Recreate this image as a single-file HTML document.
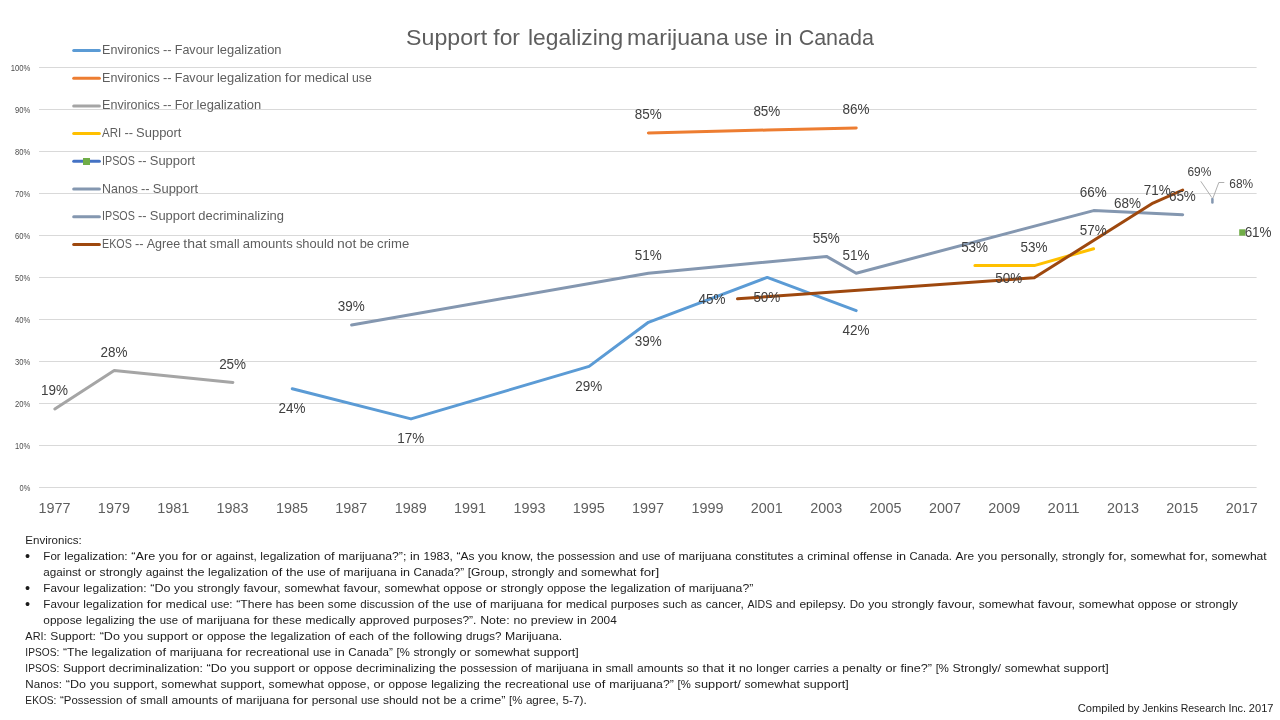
<!DOCTYPE html>
<html lang="en"><head><meta charset="utf-8"><title>Support for legalizing marijuana use in Canada</title>
<style>html,body{margin:0;padding:0;background:#fff;}body{width:1280px;height:720px;overflow:hidden;}svg{display:block;font-family:"Liberation Sans", sans-serif;}.ax{fill:#5e5e5e;}.ya{fill:#4d4d4d;}.dl{fill:#404040;}.nt{fill:#1c1c1c;}</style></head><body>
<svg width="1280" height="720" viewBox="0 0 1280 720">
<rect width="1280" height="720" fill="#fff"/>
<line x1="39.0" y1="67.5" x2="1256.6" y2="67.5" stroke="#d9d9d9" stroke-width="1"/>
<line x1="39.0" y1="109.5" x2="1256.6" y2="109.5" stroke="#d9d9d9" stroke-width="1"/>
<line x1="39.0" y1="151.5" x2="1256.6" y2="151.5" stroke="#d9d9d9" stroke-width="1"/>
<line x1="39.0" y1="193.5" x2="1256.6" y2="193.5" stroke="#d9d9d9" stroke-width="1"/>
<line x1="39.0" y1="235.5" x2="1256.6" y2="235.5" stroke="#d9d9d9" stroke-width="1"/>
<line x1="39.0" y1="277.5" x2="1256.6" y2="277.5" stroke="#d9d9d9" stroke-width="1"/>
<line x1="39.0" y1="319.5" x2="1256.6" y2="319.5" stroke="#d9d9d9" stroke-width="1"/>
<line x1="39.0" y1="361.5" x2="1256.6" y2="361.5" stroke="#d9d9d9" stroke-width="1"/>
<line x1="39.0" y1="403.5" x2="1256.6" y2="403.5" stroke="#d9d9d9" stroke-width="1"/>
<line x1="39.0" y1="445.5" x2="1256.6" y2="445.5" stroke="#d9d9d9" stroke-width="1"/>
<line x1="39.0" y1="487.5" x2="1256.6" y2="487.5" stroke="#d9d9d9" stroke-width="1"/>
<text x="10.63" y="70.70" font-size="8.30" textLength="19.67" lengthAdjust="spacingAndGlyphs" class="ya">100%</text>
<text x="15.09" y="112.70" font-size="8.30" textLength="15.21" lengthAdjust="spacingAndGlyphs" class="ya">90%</text>
<text x="15.09" y="154.70" font-size="8.30" textLength="15.21" lengthAdjust="spacingAndGlyphs" class="ya">80%</text>
<text x="15.09" y="196.70" font-size="8.30" textLength="15.21" lengthAdjust="spacingAndGlyphs" class="ya">70%</text>
<text x="15.09" y="238.70" font-size="8.30" textLength="15.21" lengthAdjust="spacingAndGlyphs" class="ya">60%</text>
<text x="15.09" y="280.70" font-size="8.30" textLength="15.21" lengthAdjust="spacingAndGlyphs" class="ya">50%</text>
<text x="15.09" y="322.70" font-size="8.30" textLength="15.21" lengthAdjust="spacingAndGlyphs" class="ya">40%</text>
<text x="15.09" y="364.70" font-size="8.30" textLength="15.21" lengthAdjust="spacingAndGlyphs" class="ya">30%</text>
<text x="15.09" y="406.70" font-size="8.30" textLength="15.21" lengthAdjust="spacingAndGlyphs" class="ya">20%</text>
<text x="15.09" y="448.70" font-size="8.30" textLength="15.21" lengthAdjust="spacingAndGlyphs" class="ya">10%</text>
<text x="19.55" y="490.70" font-size="8.30" textLength="10.75" lengthAdjust="spacingAndGlyphs" class="ya">0%</text>
<text x="38.52" y="512.80" font-size="14.00" textLength="32.03" lengthAdjust="spacingAndGlyphs" class="ax">1977</text>
<text x="97.88" y="512.80" font-size="14.00" textLength="32.03" lengthAdjust="spacingAndGlyphs" class="ax">1979</text>
<text x="157.24" y="512.80" font-size="14.00" textLength="32.03" lengthAdjust="spacingAndGlyphs" class="ax">1981</text>
<text x="216.60" y="512.80" font-size="14.00" textLength="32.03" lengthAdjust="spacingAndGlyphs" class="ax">1983</text>
<text x="275.96" y="512.80" font-size="14.00" textLength="32.03" lengthAdjust="spacingAndGlyphs" class="ax">1985</text>
<text x="335.32" y="512.80" font-size="14.00" textLength="32.03" lengthAdjust="spacingAndGlyphs" class="ax">1987</text>
<text x="394.68" y="512.80" font-size="14.00" textLength="32.03" lengthAdjust="spacingAndGlyphs" class="ax">1989</text>
<text x="454.04" y="512.80" font-size="14.00" textLength="32.03" lengthAdjust="spacingAndGlyphs" class="ax">1991</text>
<text x="513.40" y="512.80" font-size="14.00" textLength="32.03" lengthAdjust="spacingAndGlyphs" class="ax">1993</text>
<text x="572.76" y="512.80" font-size="14.00" textLength="32.03" lengthAdjust="spacingAndGlyphs" class="ax">1995</text>
<text x="632.12" y="512.80" font-size="14.00" textLength="32.03" lengthAdjust="spacingAndGlyphs" class="ax">1997</text>
<text x="691.48" y="512.80" font-size="14.00" textLength="32.03" lengthAdjust="spacingAndGlyphs" class="ax">1999</text>
<text x="750.84" y="512.80" font-size="14.00" textLength="32.03" lengthAdjust="spacingAndGlyphs" class="ax">2001</text>
<text x="810.20" y="512.80" font-size="14.00" textLength="32.03" lengthAdjust="spacingAndGlyphs" class="ax">2003</text>
<text x="869.56" y="512.80" font-size="14.00" textLength="32.03" lengthAdjust="spacingAndGlyphs" class="ax">2005</text>
<text x="928.92" y="512.80" font-size="14.00" textLength="32.03" lengthAdjust="spacingAndGlyphs" class="ax">2007</text>
<text x="988.28" y="512.80" font-size="14.00" textLength="32.03" lengthAdjust="spacingAndGlyphs" class="ax">2009</text>
<text x="1047.64" y="512.80" font-size="14.00" textLength="32.03" lengthAdjust="spacingAndGlyphs" class="ax">2011</text>
<text x="1107.00" y="512.80" font-size="14.00" textLength="32.03" lengthAdjust="spacingAndGlyphs" class="ax">2013</text>
<text x="1166.36" y="512.80" font-size="14.00" textLength="32.03" lengthAdjust="spacingAndGlyphs" class="ax">2015</text>
<text x="1225.72" y="512.80" font-size="14.00" textLength="32.03" lengthAdjust="spacingAndGlyphs" class="ax">2017</text>
<text y="45.00" font-size="22.60" class="ax"><tspan x="406.14" textLength="81.06" lengthAdjust="spacingAndGlyphs">Support</tspan> <tspan x="493.34" textLength="26.66" lengthAdjust="spacingAndGlyphs">for</tspan> <tspan x="528.04" textLength="95.06" lengthAdjust="spacingAndGlyphs">legalizing</tspan> <tspan x="626.94" textLength="101.86" lengthAdjust="spacingAndGlyphs">marijuana</tspan> <tspan x="733.94" textLength="33.96" lengthAdjust="spacingAndGlyphs">use</tspan> <tspan x="774.44" textLength="18.16" lengthAdjust="spacingAndGlyphs">in</tspan> <tspan x="798.64" textLength="75.36" lengthAdjust="spacingAndGlyphs">Canada</tspan></text>
<line x1="73.7" y1="50.50" x2="99.4" y2="50.50" stroke="#5B9BD5" stroke-width="3.0" stroke-linecap="round"/>
<text y="54.00" font-size="12.60" class="ax"><tspan x="102.06" textLength="57.83" lengthAdjust="spacingAndGlyphs">Environics</tspan> <tspan x="163.05" textLength="8.55" lengthAdjust="spacingAndGlyphs">--</tspan> <tspan x="174.76" textLength="39.00" lengthAdjust="spacingAndGlyphs">Favour</tspan> <tspan x="216.92" textLength="64.64" lengthAdjust="spacingAndGlyphs">legalization</tspan></text>
<line x1="73.7" y1="78.20" x2="99.4" y2="78.20" stroke="#ED7D31" stroke-width="3.0" stroke-linecap="round"/>
<text y="81.70" font-size="12.60" class="ax"><tspan x="102.06" textLength="57.83" lengthAdjust="spacingAndGlyphs">Environics</tspan> <tspan x="163.05" textLength="8.55" lengthAdjust="spacingAndGlyphs">--</tspan> <tspan x="174.76" textLength="39.00" lengthAdjust="spacingAndGlyphs">Favour</tspan> <tspan x="216.92" textLength="64.64" lengthAdjust="spacingAndGlyphs">legalization</tspan> <tspan x="284.72" textLength="16.50" lengthAdjust="spacingAndGlyphs">for</tspan> <tspan x="304.37" textLength="44.46" lengthAdjust="spacingAndGlyphs">medical</tspan> <tspan x="351.99" textLength="19.75" lengthAdjust="spacingAndGlyphs">use</tspan></text>
<line x1="73.7" y1="105.90" x2="99.4" y2="105.90" stroke="#A5A5A5" stroke-width="3.0" stroke-linecap="round"/>
<text y="109.40" font-size="12.60" class="ax"><tspan x="102.06" textLength="57.83" lengthAdjust="spacingAndGlyphs">Environics</tspan> <tspan x="163.05" textLength="8.55" lengthAdjust="spacingAndGlyphs">--</tspan> <tspan x="174.76" textLength="18.66" lengthAdjust="spacingAndGlyphs">For</tspan> <tspan x="196.58" textLength="64.64" lengthAdjust="spacingAndGlyphs">legalization</tspan></text>
<line x1="73.7" y1="133.60" x2="99.4" y2="133.60" stroke="#FFC000" stroke-width="3.0" stroke-linecap="round"/>
<text y="137.10" font-size="12.60" class="ax"><tspan x="102.06" textLength="19.19" lengthAdjust="spacingAndGlyphs">ARI</tspan> <tspan x="124.41" textLength="8.55" lengthAdjust="spacingAndGlyphs">--</tspan> <tspan x="136.12" textLength="45.35" lengthAdjust="spacingAndGlyphs">Support</tspan></text>
<line x1="73.7" y1="161.30" x2="99.4" y2="161.30" stroke="#4472C4" stroke-width="3.0" stroke-linecap="round"/>
<rect x="83" y="158" width="7" height="7" fill="#70AD47"/>
<text y="164.80" font-size="12.60" class="ax"><tspan x="102.06" textLength="32.82" lengthAdjust="spacingAndGlyphs">IPSOS</tspan> <tspan x="138.04" textLength="8.55" lengthAdjust="spacingAndGlyphs">--</tspan> <tspan x="149.76" textLength="45.35" lengthAdjust="spacingAndGlyphs">Support</tspan></text>
<line x1="73.7" y1="189.00" x2="99.4" y2="189.00" stroke="#8497B0" stroke-width="3.0" stroke-linecap="round"/>
<text y="192.50" font-size="12.60" class="ax"><tspan x="102.06" textLength="35.88" lengthAdjust="spacingAndGlyphs">Nanos</tspan> <tspan x="141.10" textLength="8.55" lengthAdjust="spacingAndGlyphs">--</tspan> <tspan x="152.81" textLength="45.35" lengthAdjust="spacingAndGlyphs">Support</tspan></text>
<line x1="73.7" y1="216.70" x2="99.4" y2="216.70" stroke="#8497B0" stroke-width="3.0" stroke-linecap="round"/>
<text y="220.20" font-size="12.60" class="ax"><tspan x="102.06" textLength="32.82" lengthAdjust="spacingAndGlyphs">IPSOS</tspan> <tspan x="138.04" textLength="8.55" lengthAdjust="spacingAndGlyphs">--</tspan> <tspan x="149.76" textLength="45.35" lengthAdjust="spacingAndGlyphs">Support</tspan> <tspan x="198.27" textLength="85.72" lengthAdjust="spacingAndGlyphs">decriminalizing</tspan></text>
<line x1="73.7" y1="244.40" x2="99.4" y2="244.40" stroke="#9E480E" stroke-width="3.0" stroke-linecap="round"/>
<text y="247.90" font-size="12.60" class="ax"><tspan x="102.06" textLength="29.75" lengthAdjust="spacingAndGlyphs">EKOS</tspan> <tspan x="134.97" textLength="8.55" lengthAdjust="spacingAndGlyphs">--</tspan> <tspan x="146.68" textLength="33.43" lengthAdjust="spacingAndGlyphs">Agree</tspan> <tspan x="183.27" textLength="23.39" lengthAdjust="spacingAndGlyphs">that</tspan> <tspan x="209.82" textLength="29.73" lengthAdjust="spacingAndGlyphs">small</tspan> <tspan x="242.70" textLength="50.04" lengthAdjust="spacingAndGlyphs">amounts</tspan> <tspan x="295.90" textLength="38.06" lengthAdjust="spacingAndGlyphs">should</tspan> <tspan x="337.12" textLength="19.39" lengthAdjust="spacingAndGlyphs">not</tspan> <tspan x="359.66" textLength="14.29" lengthAdjust="spacingAndGlyphs">be</tspan> <tspan x="377.11" textLength="32.09" lengthAdjust="spacingAndGlyphs">crime</tspan></text>
<polyline fill="none" stroke="#5B9BD5" stroke-width="3.00" stroke-linecap="round" stroke-linejoin="round" points="292.3,388.7 411.0,418.9 589.1,366.4 648.4,322.3 767.2,277.4 856.2,310.6"/>
<polyline fill="none" stroke="#ED7D31" stroke-width="3.00" stroke-linecap="round" stroke-linejoin="round" points="648.4,132.9 767.2,130.0 856.2,127.9"/>
<polyline fill="none" stroke="#A5A5A5" stroke-width="3.00" stroke-linecap="round" stroke-linejoin="round" points="54.8,408.9 114.2,370.6 232.9,382.4"/>
<polyline fill="none" stroke="#FFC000" stroke-width="3.00" stroke-linecap="round" stroke-linejoin="round" points="974.9,265.6 1034.3,265.6 1093.6,248.8"/>
<polyline fill="none" stroke="#8497B0" stroke-width="2.50" stroke-linecap="round" stroke-linejoin="round" points="1212.4,198.9 1212.4,202.6"/>
<polyline fill="none" stroke="#8497B0" stroke-width="3.00" stroke-linecap="round" stroke-linejoin="round" points="351.6,324.9 648.4,273.2 826.5,256.4 856.2,273.2 1093.6,210.6 1182.7,214.8"/>
<polyline fill="none" stroke="#9E480E" stroke-width="3.00" stroke-linecap="round" stroke-linejoin="round" points="737.5,298.8 1034.3,277.8 1153.0,203.1 1182.7,190.0"/>
<rect x="1239.2" y="229.3" width="6.2" height="6.4" fill="#70AD47"/>
<polyline fill="none" stroke="#a6a6a6" stroke-width="0.9" points="1200.8,181.3 1211.8,197.5"/>
<polyline fill="none" stroke="#a6a6a6" stroke-width="0.9" points="1224.3,182.5 1218.8,182.5 1213,198"/>
<text x="41.06" y="395.26" font-size="14.20" textLength="26.96" lengthAdjust="spacingAndGlyphs" class="dl">19%</text>
<text x="100.42" y="357.04" font-size="14.20" textLength="26.96" lengthAdjust="spacingAndGlyphs" class="dl">28%</text>
<text x="219.14" y="368.80" font-size="14.20" textLength="26.96" lengthAdjust="spacingAndGlyphs" class="dl">25%</text>
<text x="278.50" y="412.80" font-size="14.20" textLength="26.96" lengthAdjust="spacingAndGlyphs" class="dl">24%</text>
<text x="397.22" y="443.04" font-size="14.20" textLength="26.96" lengthAdjust="spacingAndGlyphs" class="dl">17%</text>
<text x="575.30" y="390.54" font-size="14.20" textLength="26.96" lengthAdjust="spacingAndGlyphs" class="dl">29%</text>
<text x="634.66" y="346.44" font-size="14.20" textLength="26.96" lengthAdjust="spacingAndGlyphs" class="dl">39%</text>
<text x="753.38" y="301.50" font-size="14.20" textLength="26.96" lengthAdjust="spacingAndGlyphs" class="dl">50%</text>
<text x="842.42" y="334.68" font-size="14.20" textLength="26.96" lengthAdjust="spacingAndGlyphs" class="dl">42%</text>
<text x="634.66" y="119.32" font-size="14.20" textLength="26.96" lengthAdjust="spacingAndGlyphs" class="dl">85%</text>
<text x="753.38" y="116.38" font-size="14.20" textLength="26.96" lengthAdjust="spacingAndGlyphs" class="dl">85%</text>
<text x="842.42" y="114.28" font-size="14.20" textLength="26.96" lengthAdjust="spacingAndGlyphs" class="dl">86%</text>
<text x="961.14" y="252.04" font-size="14.20" textLength="26.96" lengthAdjust="spacingAndGlyphs" class="dl">53%</text>
<text x="1020.50" y="252.04" font-size="14.20" textLength="26.96" lengthAdjust="spacingAndGlyphs" class="dl">53%</text>
<text x="1079.86" y="235.24" font-size="14.20" textLength="26.96" lengthAdjust="spacingAndGlyphs" class="dl">57%</text>
<text x="337.86" y="311.26" font-size="14.20" textLength="26.96" lengthAdjust="spacingAndGlyphs" class="dl">39%</text>
<text x="634.66" y="259.60" font-size="14.20" textLength="26.96" lengthAdjust="spacingAndGlyphs" class="dl">51%</text>
<text x="812.74" y="242.80" font-size="14.20" textLength="26.96" lengthAdjust="spacingAndGlyphs" class="dl">55%</text>
<text x="842.42" y="259.60" font-size="14.20" textLength="26.96" lengthAdjust="spacingAndGlyphs" class="dl">51%</text>
<text x="1079.86" y="197.02" font-size="14.20" textLength="26.96" lengthAdjust="spacingAndGlyphs" class="dl">66%</text>
<text x="1168.90" y="201.22" font-size="14.20" textLength="26.96" lengthAdjust="spacingAndGlyphs" class="dl">65%</text>
<text x="698.52" y="303.92" font-size="14.20" textLength="26.96" lengthAdjust="spacingAndGlyphs" class="dl">45%</text>
<text x="995.32" y="282.92" font-size="14.20" textLength="26.96" lengthAdjust="spacingAndGlyphs" class="dl">50%</text>
<text x="1114.04" y="208.16" font-size="14.20" textLength="26.96" lengthAdjust="spacingAndGlyphs" class="dl">68%</text>
<text x="1143.72" y="195.14" font-size="14.20" textLength="26.96" lengthAdjust="spacingAndGlyphs" class="dl">71%</text>
<text x="1244.64" y="236.96" font-size="14.20" textLength="26.96" lengthAdjust="spacingAndGlyphs" class="dl">61%</text>
<text x="1187.47" y="176.00" font-size="12.60" textLength="23.85" lengthAdjust="spacingAndGlyphs" class="dl">69%</text>
<text x="1229.27" y="188.00" font-size="12.60" textLength="23.85" lengthAdjust="spacingAndGlyphs" class="dl">68%</text>
<text y="544.00" font-size="11.80" class="nt"><tspan x="25.37" textLength="56.38" lengthAdjust="spacingAndGlyphs">Environics:</tspan></text>
<text y="560.00" font-size="11.80" class="nt"><tspan x="43.37" textLength="17.29" lengthAdjust="spacingAndGlyphs">For</tspan> <tspan x="64.29" textLength="63.38" lengthAdjust="spacingAndGlyphs">legalization:</tspan> <tspan x="131.31" textLength="23.87" lengthAdjust="spacingAndGlyphs">“Are</tspan> <tspan x="158.81" textLength="19.49" lengthAdjust="spacingAndGlyphs">you</tspan> <tspan x="181.93" textLength="15.30" lengthAdjust="spacingAndGlyphs">for</tspan> <tspan x="200.86" textLength="11.34" lengthAdjust="spacingAndGlyphs">or</tspan> <tspan x="215.83" textLength="40.91" lengthAdjust="spacingAndGlyphs">against,</tspan> <tspan x="260.37" textLength="59.92" lengthAdjust="spacingAndGlyphs">legalization</tspan> <tspan x="323.92" textLength="10.78" lengthAdjust="spacingAndGlyphs">of</tspan> <tspan x="338.33" textLength="68.03" lengthAdjust="spacingAndGlyphs">marijuana?”;</tspan> <tspan x="409.99" textLength="9.78" lengthAdjust="spacingAndGlyphs">in</tspan> <tspan x="423.40" textLength="29.49" lengthAdjust="spacingAndGlyphs">1983,</tspan> <tspan x="456.51" textLength="17.98" lengthAdjust="spacingAndGlyphs">“As</tspan> <tspan x="478.12" textLength="19.49" lengthAdjust="spacingAndGlyphs">you</tspan> <tspan x="501.25" textLength="32.01" lengthAdjust="spacingAndGlyphs">know,</tspan> <tspan x="536.88" textLength="17.58" lengthAdjust="spacingAndGlyphs">the</tspan> <tspan x="558.10" textLength="56.94" lengthAdjust="spacingAndGlyphs">possession</tspan> <tspan x="618.67" textLength="19.81" lengthAdjust="spacingAndGlyphs">and</tspan> <tspan x="642.11" textLength="18.31" lengthAdjust="spacingAndGlyphs">use</tspan> <tspan x="664.05" textLength="10.78" lengthAdjust="spacingAndGlyphs">of</tspan> <tspan x="678.46" textLength="53.15" lengthAdjust="spacingAndGlyphs">marijuana</tspan> <tspan x="735.24" textLength="58.47" lengthAdjust="spacingAndGlyphs">constitutes</tspan> <tspan x="797.34" textLength="6.20" lengthAdjust="spacingAndGlyphs">a</tspan> <tspan x="807.17" textLength="42.26" lengthAdjust="spacingAndGlyphs">criminal</tspan> <tspan x="853.06" textLength="39.49" lengthAdjust="spacingAndGlyphs">offense</tspan> <tspan x="896.18" textLength="9.78" lengthAdjust="spacingAndGlyphs">in</tspan> <tspan x="909.58" textLength="42.39" lengthAdjust="spacingAndGlyphs">Canada.</tspan> <tspan x="955.60" textLength="18.45" lengthAdjust="spacingAndGlyphs">Are</tspan> <tspan x="977.68" textLength="19.49" lengthAdjust="spacingAndGlyphs">you</tspan> <tspan x="1000.81" textLength="57.70" lengthAdjust="spacingAndGlyphs">personally,</tspan> <tspan x="1062.14" textLength="42.48" lengthAdjust="spacingAndGlyphs">strongly</tspan> <tspan x="1108.25" textLength="18.53" lengthAdjust="spacingAndGlyphs">for,</tspan> <tspan x="1130.40" textLength="55.28" lengthAdjust="spacingAndGlyphs">somewhat</tspan> <tspan x="1189.32" textLength="18.53" lengthAdjust="spacingAndGlyphs">for,</tspan> <tspan x="1211.47" textLength="55.28" lengthAdjust="spacingAndGlyphs">somewhat</tspan></text>
<text x="25.05" y="560.60" font-size="14.5" class="nt">•</text>
<text y="576.00" font-size="11.80" class="nt"><tspan x="43.37" textLength="37.68" lengthAdjust="spacingAndGlyphs">against</tspan> <tspan x="84.65" textLength="11.34" lengthAdjust="spacingAndGlyphs">or</tspan> <tspan x="99.58" textLength="42.48" lengthAdjust="spacingAndGlyphs">strongly</tspan> <tspan x="145.66" textLength="37.68" lengthAdjust="spacingAndGlyphs">against</tspan> <tspan x="186.93" textLength="17.58" lengthAdjust="spacingAndGlyphs">the</tspan> <tspan x="208.11" textLength="59.92" lengthAdjust="spacingAndGlyphs">legalization</tspan> <tspan x="271.63" textLength="10.78" lengthAdjust="spacingAndGlyphs">of</tspan> <tspan x="286.00" textLength="17.58" lengthAdjust="spacingAndGlyphs">the</tspan> <tspan x="307.18" textLength="18.31" lengthAdjust="spacingAndGlyphs">use</tspan> <tspan x="329.09" textLength="10.78" lengthAdjust="spacingAndGlyphs">of</tspan> <tspan x="343.47" textLength="53.15" lengthAdjust="spacingAndGlyphs">marijuana</tspan> <tspan x="400.21" textLength="9.78" lengthAdjust="spacingAndGlyphs">in</tspan> <tspan x="413.58" textLength="50.54" lengthAdjust="spacingAndGlyphs">Canada?”</tspan> <tspan x="467.71" textLength="40.32" lengthAdjust="spacingAndGlyphs">[Group,</tspan> <tspan x="511.63" textLength="42.48" lengthAdjust="spacingAndGlyphs">strongly</tspan> <tspan x="557.71" textLength="19.81" lengthAdjust="spacingAndGlyphs">and</tspan> <tspan x="581.11" textLength="55.28" lengthAdjust="spacingAndGlyphs">somewhat</tspan> <tspan x="639.99" textLength="19.27" lengthAdjust="spacingAndGlyphs">for]</tspan></text>
<text y="592.00" font-size="11.80" class="nt"><tspan x="43.37" textLength="36.15" lengthAdjust="spacingAndGlyphs">Favour</tspan> <tspan x="83.18" textLength="63.38" lengthAdjust="spacingAndGlyphs">legalization:</tspan> <tspan x="150.23" textLength="20.22" lengthAdjust="spacingAndGlyphs">“Do</tspan> <tspan x="174.11" textLength="19.49" lengthAdjust="spacingAndGlyphs">you</tspan> <tspan x="197.27" textLength="42.48" lengthAdjust="spacingAndGlyphs">strongly</tspan> <tspan x="243.41" textLength="37.38" lengthAdjust="spacingAndGlyphs">favour,</tspan> <tspan x="284.45" textLength="55.28" lengthAdjust="spacingAndGlyphs">somewhat</tspan> <tspan x="343.40" textLength="37.38" lengthAdjust="spacingAndGlyphs">favour,</tspan> <tspan x="384.45" textLength="55.28" lengthAdjust="spacingAndGlyphs">somewhat</tspan> <tspan x="443.39" textLength="38.77" lengthAdjust="spacingAndGlyphs">oppose</tspan> <tspan x="485.83" textLength="11.34" lengthAdjust="spacingAndGlyphs">or</tspan> <tspan x="500.84" textLength="42.48" lengthAdjust="spacingAndGlyphs">strongly</tspan> <tspan x="546.98" textLength="38.77" lengthAdjust="spacingAndGlyphs">oppose</tspan> <tspan x="589.42" textLength="17.58" lengthAdjust="spacingAndGlyphs">the</tspan> <tspan x="610.67" textLength="59.92" lengthAdjust="spacingAndGlyphs">legalization</tspan> <tspan x="674.25" textLength="10.78" lengthAdjust="spacingAndGlyphs">of</tspan> <tspan x="688.69" textLength="64.57" lengthAdjust="spacingAndGlyphs">marijuana?”</tspan></text>
<text x="25.05" y="592.60" font-size="14.5" class="nt">•</text>
<text y="608.00" font-size="11.80" class="nt"><tspan x="43.37" textLength="36.15" lengthAdjust="spacingAndGlyphs">Favour</tspan> <tspan x="83.22" textLength="59.92" lengthAdjust="spacingAndGlyphs">legalization</tspan> <tspan x="146.84" textLength="15.30" lengthAdjust="spacingAndGlyphs">for</tspan> <tspan x="165.84" textLength="41.21" lengthAdjust="spacingAndGlyphs">medical</tspan> <tspan x="210.76" textLength="21.78" lengthAdjust="spacingAndGlyphs">use:</tspan> <tspan x="236.24" textLength="35.93" lengthAdjust="spacingAndGlyphs">“There</tspan> <tspan x="275.87" textLength="18.07" lengthAdjust="spacingAndGlyphs">has</tspan> <tspan x="297.65" textLength="26.49" lengthAdjust="spacingAndGlyphs">been</tspan> <tspan x="327.84" textLength="28.68" lengthAdjust="spacingAndGlyphs">some</tspan> <tspan x="360.23" textLength="53.86" lengthAdjust="spacingAndGlyphs">discussion</tspan> <tspan x="417.79" textLength="10.78" lengthAdjust="spacingAndGlyphs">of</tspan> <tspan x="432.27" textLength="17.58" lengthAdjust="spacingAndGlyphs">the</tspan> <tspan x="453.55" textLength="18.31" lengthAdjust="spacingAndGlyphs">use</tspan> <tspan x="475.57" textLength="10.78" lengthAdjust="spacingAndGlyphs">of</tspan> <tspan x="490.05" textLength="53.15" lengthAdjust="spacingAndGlyphs">marijuana</tspan> <tspan x="546.90" textLength="15.30" lengthAdjust="spacingAndGlyphs">for</tspan> <tspan x="565.90" textLength="41.21" lengthAdjust="spacingAndGlyphs">medical</tspan> <tspan x="610.82" textLength="48.33" lengthAdjust="spacingAndGlyphs">purposes</tspan> <tspan x="662.85" textLength="24.15" lengthAdjust="spacingAndGlyphs">such</tspan> <tspan x="690.70" textLength="11.27" lengthAdjust="spacingAndGlyphs">as</tspan> <tspan x="705.67" textLength="38.15" lengthAdjust="spacingAndGlyphs">cancer,</tspan> <tspan x="747.52" textLength="24.67" lengthAdjust="spacingAndGlyphs">AIDS</tspan> <tspan x="775.89" textLength="19.81" lengthAdjust="spacingAndGlyphs">and</tspan> <tspan x="799.40" textLength="46.63" lengthAdjust="spacingAndGlyphs">epilepsy.</tspan> <tspan x="849.74" textLength="14.80" lengthAdjust="spacingAndGlyphs">Do</tspan> <tspan x="868.24" textLength="19.49" lengthAdjust="spacingAndGlyphs">you</tspan> <tspan x="891.43" textLength="42.48" lengthAdjust="spacingAndGlyphs">strongly</tspan> <tspan x="937.62" textLength="37.38" lengthAdjust="spacingAndGlyphs">favour,</tspan> <tspan x="978.70" textLength="55.28" lengthAdjust="spacingAndGlyphs">somewhat</tspan> <tspan x="1037.69" textLength="37.38" lengthAdjust="spacingAndGlyphs">favour,</tspan> <tspan x="1078.77" textLength="55.28" lengthAdjust="spacingAndGlyphs">somewhat</tspan> <tspan x="1137.76" textLength="38.77" lengthAdjust="spacingAndGlyphs">oppose</tspan> <tspan x="1180.23" textLength="11.34" lengthAdjust="spacingAndGlyphs">or</tspan> <tspan x="1195.28" textLength="42.48" lengthAdjust="spacingAndGlyphs">strongly</tspan></text>
<text x="25.05" y="608.60" font-size="14.5" class="nt">•</text>
<text y="624.00" font-size="11.80" class="nt"><tspan x="43.37" textLength="38.77" lengthAdjust="spacingAndGlyphs">oppose</tspan> <tspan x="85.95" textLength="48.64" lengthAdjust="spacingAndGlyphs">legalizing</tspan> <tspan x="138.40" textLength="17.58" lengthAdjust="spacingAndGlyphs">the</tspan> <tspan x="159.79" textLength="18.31" lengthAdjust="spacingAndGlyphs">use</tspan> <tspan x="181.90" textLength="10.78" lengthAdjust="spacingAndGlyphs">of</tspan> <tspan x="196.49" textLength="53.15" lengthAdjust="spacingAndGlyphs">marijuana</tspan> <tspan x="253.44" textLength="15.30" lengthAdjust="spacingAndGlyphs">for</tspan> <tspan x="272.54" textLength="29.09" lengthAdjust="spacingAndGlyphs">these</tspan> <tspan x="305.43" textLength="50.05" lengthAdjust="spacingAndGlyphs">medically</tspan> <tspan x="359.29" textLength="50.25" lengthAdjust="spacingAndGlyphs">approved</tspan> <tspan x="413.34" textLength="63.02" lengthAdjust="spacingAndGlyphs">purposes?”.</tspan> <tspan x="480.16" textLength="29.43" lengthAdjust="spacingAndGlyphs">Note:</tspan> <tspan x="513.40" textLength="13.63" lengthAdjust="spacingAndGlyphs">no</tspan> <tspan x="530.84" textLength="42.28" lengthAdjust="spacingAndGlyphs">preview</tspan> <tspan x="576.93" textLength="9.78" lengthAdjust="spacingAndGlyphs">in</tspan> <tspan x="590.50" textLength="26.25" lengthAdjust="spacingAndGlyphs">2004</tspan></text>
<text y="640.00" font-size="11.80" class="nt"><tspan x="25.37" textLength="21.25" lengthAdjust="spacingAndGlyphs">ARI:</tspan> <tspan x="50.39" textLength="45.51" lengthAdjust="spacingAndGlyphs">Support:</tspan> <tspan x="99.66" textLength="20.22" lengthAdjust="spacingAndGlyphs">“Do</tspan> <tspan x="123.64" textLength="19.49" lengthAdjust="spacingAndGlyphs">you</tspan> <tspan x="146.90" textLength="41.16" lengthAdjust="spacingAndGlyphs">support</tspan> <tspan x="191.82" textLength="11.34" lengthAdjust="spacingAndGlyphs">or</tspan> <tspan x="206.93" textLength="38.77" lengthAdjust="spacingAndGlyphs">oppose</tspan> <tspan x="249.46" textLength="17.58" lengthAdjust="spacingAndGlyphs">the</tspan> <tspan x="270.81" textLength="59.92" lengthAdjust="spacingAndGlyphs">legalization</tspan> <tspan x="334.49" textLength="10.78" lengthAdjust="spacingAndGlyphs">of</tspan> <tspan x="349.04" textLength="24.93" lengthAdjust="spacingAndGlyphs">each</tspan> <tspan x="377.73" textLength="10.78" lengthAdjust="spacingAndGlyphs">of</tspan> <tspan x="392.27" textLength="17.58" lengthAdjust="spacingAndGlyphs">the</tspan> <tspan x="413.62" textLength="48.68" lengthAdjust="spacingAndGlyphs">following</tspan> <tspan x="466.07" textLength="35.28" lengthAdjust="spacingAndGlyphs">drugs?</tspan> <tspan x="505.12" textLength="57.14" lengthAdjust="spacingAndGlyphs">Marijuana.</tspan></text>
<text y="656.00" font-size="11.80" class="nt"><tspan x="25.37" textLength="33.89" lengthAdjust="spacingAndGlyphs">IPSOS:</tspan> <tspan x="62.95" textLength="24.98" lengthAdjust="spacingAndGlyphs">“The</tspan> <tspan x="91.61" textLength="59.92" lengthAdjust="spacingAndGlyphs">legalization</tspan> <tspan x="155.21" textLength="10.78" lengthAdjust="spacingAndGlyphs">of</tspan> <tspan x="169.67" textLength="53.15" lengthAdjust="spacingAndGlyphs">marijuana</tspan> <tspan x="226.50" textLength="15.30" lengthAdjust="spacingAndGlyphs">for</tspan> <tspan x="245.48" textLength="63.71" lengthAdjust="spacingAndGlyphs">recreational</tspan> <tspan x="312.88" textLength="18.31" lengthAdjust="spacingAndGlyphs">use</tspan> <tspan x="334.88" textLength="9.78" lengthAdjust="spacingAndGlyphs">in</tspan> <tspan x="348.34" textLength="44.54" lengthAdjust="spacingAndGlyphs">Canada”</tspan> <tspan x="396.56" textLength="13.23" lengthAdjust="spacingAndGlyphs">[%</tspan> <tspan x="413.47" textLength="42.48" lengthAdjust="spacingAndGlyphs">strongly</tspan> <tspan x="459.63" textLength="11.34" lengthAdjust="spacingAndGlyphs">or</tspan> <tspan x="474.66" textLength="55.28" lengthAdjust="spacingAndGlyphs">somewhat</tspan> <tspan x="533.63" textLength="45.13" lengthAdjust="spacingAndGlyphs">support]</tspan></text>
<text y="672.00" font-size="11.80" class="nt"><tspan x="25.37" textLength="33.89" lengthAdjust="spacingAndGlyphs">IPSOS:</tspan> <tspan x="62.94" textLength="42.04" lengthAdjust="spacingAndGlyphs">Support</tspan> <tspan x="108.66" textLength="94.20" lengthAdjust="spacingAndGlyphs">decriminalization:</tspan> <tspan x="206.55" textLength="20.22" lengthAdjust="spacingAndGlyphs">“Do</tspan> <tspan x="230.44" textLength="19.49" lengthAdjust="spacingAndGlyphs">you</tspan> <tspan x="253.61" textLength="41.16" lengthAdjust="spacingAndGlyphs">support</tspan> <tspan x="298.45" textLength="11.34" lengthAdjust="spacingAndGlyphs">or</tspan> <tspan x="313.47" textLength="38.77" lengthAdjust="spacingAndGlyphs">oppose</tspan> <tspan x="355.93" textLength="79.46" lengthAdjust="spacingAndGlyphs">decriminalizing</tspan> <tspan x="439.07" textLength="17.58" lengthAdjust="spacingAndGlyphs">the</tspan> <tspan x="460.33" textLength="56.94" lengthAdjust="spacingAndGlyphs">possession</tspan> <tspan x="520.95" textLength="10.78" lengthAdjust="spacingAndGlyphs">of</tspan> <tspan x="535.41" textLength="53.15" lengthAdjust="spacingAndGlyphs">marijuana</tspan> <tspan x="592.24" textLength="9.78" lengthAdjust="spacingAndGlyphs">in</tspan> <tspan x="605.69" textLength="27.56" lengthAdjust="spacingAndGlyphs">small</tspan> <tspan x="636.93" textLength="46.39" lengthAdjust="spacingAndGlyphs">amounts</tspan> <tspan x="687.00" textLength="11.89" lengthAdjust="spacingAndGlyphs">so</tspan> <tspan x="702.57" textLength="21.68" lengthAdjust="spacingAndGlyphs">that</tspan> <tspan x="727.93" textLength="7.31" lengthAdjust="spacingAndGlyphs">it</tspan> <tspan x="738.92" textLength="13.63" lengthAdjust="spacingAndGlyphs">no</tspan> <tspan x="756.23" textLength="33.66" lengthAdjust="spacingAndGlyphs">longer</tspan> <tspan x="793.57" textLength="35.19" lengthAdjust="spacingAndGlyphs">carries</tspan> <tspan x="832.44" textLength="6.20" lengthAdjust="spacingAndGlyphs">a</tspan> <tspan x="842.32" textLength="39.43" lengthAdjust="spacingAndGlyphs">penalty</tspan> <tspan x="885.42" textLength="11.34" lengthAdjust="spacingAndGlyphs">or</tspan> <tspan x="900.44" textLength="31.59" lengthAdjust="spacingAndGlyphs">fine?”</tspan> <tspan x="935.71" textLength="13.23" lengthAdjust="spacingAndGlyphs">[%</tspan> <tspan x="952.62" textLength="48.37" lengthAdjust="spacingAndGlyphs">Strongly/</tspan> <tspan x="1004.67" textLength="55.28" lengthAdjust="spacingAndGlyphs">somewhat</tspan> <tspan x="1063.63" textLength="45.13" lengthAdjust="spacingAndGlyphs">support]</tspan></text>
<text y="688.00" font-size="11.80" class="nt"><tspan x="25.37" textLength="36.73" lengthAdjust="spacingAndGlyphs">Nanos:</tspan> <tspan x="65.89" textLength="20.22" lengthAdjust="spacingAndGlyphs">“Do</tspan> <tspan x="89.90" textLength="19.49" lengthAdjust="spacingAndGlyphs">you</tspan> <tspan x="113.19" textLength="44.39" lengthAdjust="spacingAndGlyphs">support,</tspan> <tspan x="161.37" textLength="55.28" lengthAdjust="spacingAndGlyphs">somewhat</tspan> <tspan x="220.45" textLength="44.39" lengthAdjust="spacingAndGlyphs">support,</tspan> <tspan x="268.63" textLength="55.28" lengthAdjust="spacingAndGlyphs">somewhat</tspan> <tspan x="327.71" textLength="42.01" lengthAdjust="spacingAndGlyphs">oppose,</tspan> <tspan x="373.51" textLength="11.34" lengthAdjust="spacingAndGlyphs">or</tspan> <tspan x="388.64" textLength="38.77" lengthAdjust="spacingAndGlyphs">oppose</tspan> <tspan x="431.21" textLength="48.64" lengthAdjust="spacingAndGlyphs">legalizing</tspan> <tspan x="483.65" textLength="17.58" lengthAdjust="spacingAndGlyphs">the</tspan> <tspan x="505.03" textLength="63.71" lengthAdjust="spacingAndGlyphs">recreational</tspan> <tspan x="572.54" textLength="18.31" lengthAdjust="spacingAndGlyphs">use</tspan> <tspan x="594.64" textLength="10.78" lengthAdjust="spacingAndGlyphs">of</tspan> <tspan x="609.22" textLength="64.57" lengthAdjust="spacingAndGlyphs">marijuana?”</tspan> <tspan x="677.58" textLength="13.23" lengthAdjust="spacingAndGlyphs">[%</tspan> <tspan x="694.60" textLength="46.16" lengthAdjust="spacingAndGlyphs">support/</tspan> <tspan x="744.55" textLength="55.28" lengthAdjust="spacingAndGlyphs">somewhat</tspan> <tspan x="803.63" textLength="45.13" lengthAdjust="spacingAndGlyphs">support]</tspan></text>
<text y="704.00" font-size="11.80" class="nt"><tspan x="25.37" textLength="31.04" lengthAdjust="spacingAndGlyphs">EKOS:</tspan> <tspan x="60.05" textLength="62.25" lengthAdjust="spacingAndGlyphs">“Possession</tspan> <tspan x="125.94" textLength="10.78" lengthAdjust="spacingAndGlyphs">of</tspan> <tspan x="140.36" textLength="27.56" lengthAdjust="spacingAndGlyphs">small</tspan> <tspan x="171.56" textLength="46.39" lengthAdjust="spacingAndGlyphs">amounts</tspan> <tspan x="221.59" textLength="10.78" lengthAdjust="spacingAndGlyphs">of</tspan> <tspan x="236.01" textLength="53.15" lengthAdjust="spacingAndGlyphs">marijuana</tspan> <tspan x="292.79" textLength="15.30" lengthAdjust="spacingAndGlyphs">for</tspan> <tspan x="311.73" textLength="45.63" lengthAdjust="spacingAndGlyphs">personal</tspan> <tspan x="361.01" textLength="18.31" lengthAdjust="spacingAndGlyphs">use</tspan> <tspan x="382.96" textLength="35.28" lengthAdjust="spacingAndGlyphs">should</tspan> <tspan x="421.88" textLength="17.97" lengthAdjust="spacingAndGlyphs">not</tspan> <tspan x="443.49" textLength="13.25" lengthAdjust="spacingAndGlyphs">be</tspan> <tspan x="460.38" textLength="6.20" lengthAdjust="spacingAndGlyphs">a</tspan> <tspan x="470.22" textLength="35.17" lengthAdjust="spacingAndGlyphs">crime”</tspan> <tspan x="509.03" textLength="13.23" lengthAdjust="spacingAndGlyphs">[%</tspan> <tspan x="525.90" textLength="32.93" lengthAdjust="spacingAndGlyphs">agree,</tspan> <tspan x="562.47" textLength="24.29" lengthAdjust="spacingAndGlyphs">5-7).</tspan></text>
<text y="711.50" font-size="11.00" class="nt"><tspan x="1077.77" textLength="47.00" lengthAdjust="spacingAndGlyphs">Compiled</tspan> <tspan x="1127.52" textLength="11.89" lengthAdjust="spacingAndGlyphs">by</tspan> <tspan x="1142.15" textLength="35.76" lengthAdjust="spacingAndGlyphs">Jenkins</tspan> <tspan x="1180.66" textLength="45.03" lengthAdjust="spacingAndGlyphs">Research</tspan> <tspan x="1228.44" textLength="17.66" lengthAdjust="spacingAndGlyphs">Inc.</tspan> <tspan x="1248.85" textLength="24.64" lengthAdjust="spacingAndGlyphs">2017</tspan></text>
</svg></body></html>
